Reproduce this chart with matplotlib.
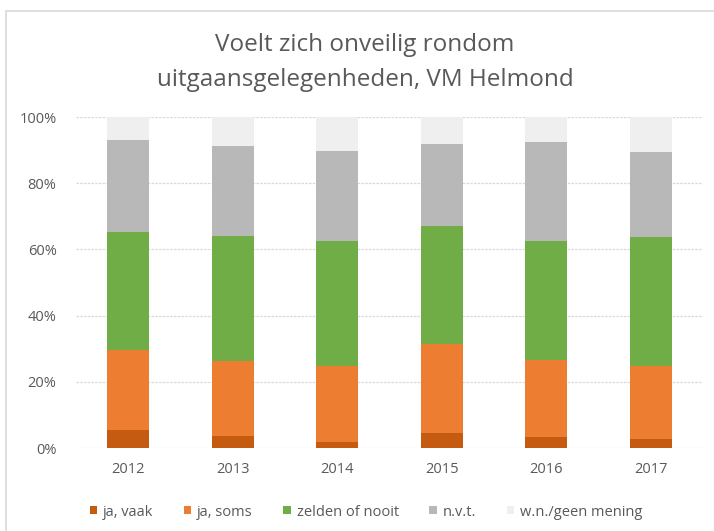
import matplotlib.pyplot as plt
from matplotlib.patches import Rectangle, Patch
import numpy as np

plt.rcParams['font.family'] = ['Open Sans', 'DejaVu Sans']

years = ["2012", "2013", "2014", "2015", "2016", "2017"]
series = ["ja, vaak", "ja, soms", "zelden of nooit", "n.v.t.", "w.n./geen mening"]
ja_vaak = [5.4, 3.6, 1.7, 4.5, 3.2, 2.6]
ja_soms = [24.2, 22.7, 23.2, 26.8, 23.5, 22.3]
zelden = [35.7, 37.6, 37.7, 35.8, 35.9, 38.7]
nvt = [27.7, 27.2, 27.2, 24.6, 29.9, 25.7]
wn = [7.0, 8.9, 10.2, 8.3, 7.5, 10.7]
colors = ["#C55A11", "#ED7D31", "#70AD47", "#B8B8B8", "#EFEFEF"]

fig = plt.figure(figsize=(7.14, 5.31), dpi=100)
ax = fig.add_axes([76 / 714, 1 - 448 / 531, 627 / 714, 331 / 531])

# light frame round the chart
fig.patches.append(Rectangle((6 / 714, -0.1), 1.2, 1 - 10.5 / 531 + 0.1,
                             transform=fig.transFigure, fill=False,
                             edgecolor="#D9D9D9", linewidth=1.2))

x = np.arange(len(years))
bottom = np.zeros(len(years))
for name, vals, c in zip(series, [ja_vaak, ja_soms, zelden, nvt, wn], colors):
    ax.bar(x, vals, 0.4, bottom=bottom, color=c, label=name, zorder=3)
    bottom += np.array(vals)

ax.set_xlim(-0.5, len(years) - 0.5)
ax.set_ylim(0, 100)
ax.set_yticks(range(0, 101, 20))
ax.set_yticklabels([f"{v}%" for v in range(0, 101, 20)])
ax.set_xticks(x)
ax.set_xticklabels(years)
ax.tick_params(length=0, labelsize=10.5, labelcolor="#595959")
ax.tick_params(axis="y", pad=14)
ax.tick_params(axis="x", pad=10)
ax.grid(axis="y", color="#D9D9D9", linestyle=(0, (2, 1)), linewidth=0.9, zorder=0)
for s in ax.spines.values():
    s.set_visible(False)

fig.text(365 / 714, 1 - 45 / 531, "Voelt zich onveilig rondom",
         ha="center", va="center", fontsize=17.5, color="#595959")
fig.text(365 / 714, 1 - 80 / 531, "uitgaansgelegenheden, VM Helmond",
         ha="center", va="center", fontsize=17.5, color="#595959")

handles = [Patch(facecolor=c, label=n) for n, c in zip(series, colors)]
fig.legend(handles=handles, loc="center", bbox_to_anchor=(366 / 714, 1 - 512 / 531),
           ncol=5, frameon=False, fontsize=10.5, labelcolor="#595959",
           handlelength=0.5, handleheight=0.5, handletextpad=0.4, columnspacing=2.1)

fig.savefig("out.png", dpi=100)
